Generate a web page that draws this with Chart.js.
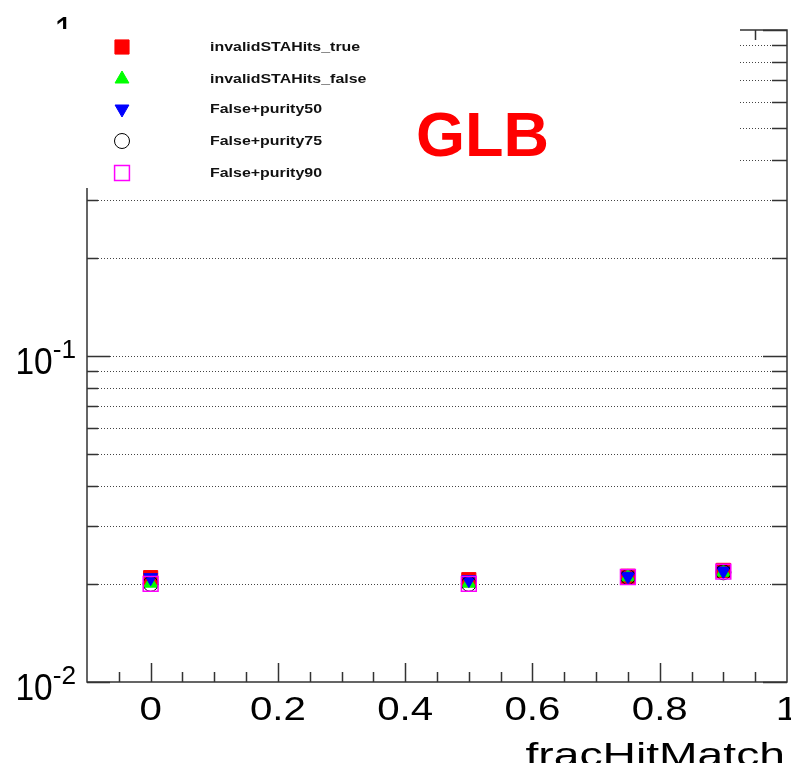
<!DOCTYPE html>
<html>
<head>
<meta charset="utf-8">
<script src="https://cdn.jsdelivr.net/npm/chart.js@4"></script>
<style>
html, body { margin: 0; padding: 0; background: #fff; overflow: hidden; }
</style>
</head>
<body>
<canvas id="fracChart" width="791" height="763"></canvas>
<script>
// data
const fracHitMatch = [0, 0.5, 0.75, 0.9];
const staHitsTrue = [0.0209, 0.0206, 0.0211, 0.0220];
const staHitsFalse = [0.0201, 0.0201, 0.0210, 0.0217];
const purity50 = [0.0209, 0.0206, 0.0211, 0.0219];
const purity75 = [0.0200, 0.0200, 0.0210, 0.0217];
const purity90 = [0.0200, 0.0200, 0.0210, 0.0218];

const xTickValues = [0, 0.2, 0.4, 0.6, 0.8, 1];
const xTickLabels = ["0", "0.2", "0.4", "0.6", "0.8", "1"];
const yDecades = [0.01, 0.1, 1];
const yDecadeLabels = [["10", "-2"], ["10", "-1"], ["1", ""]];

const FONT = '"Liberation Sans", Arial, Helvetica, sans-serif';
const AXIS = "#333";

function pts(ys) {
    return fracHitMatch.map((x, i) => ({ x: x, y: ys[i] }));
}

function isDecade(v) {
    return yDecades.some(d => Math.abs(v / d - 1) < 1e-6);
}

// log ticks: every 1..9 inside each decade
function yTickList() {
    const out = [];
    for (let d = 0; d < yDecades.length - 1; d++) {
        for (let m = 1; m < 10; m++) out.push(yDecades[d] * m);
    }
    out.push(yDecades[yDecades.length - 1]);
    return out;
}

// text stretched sideways, like the original ROOT output
function wideText(ctx, str, x, y, sx, align) {
    ctx.save();
    ctx.translate(x, y);
    ctx.scale(sx, 1);
    ctx.textAlign = align;
    ctx.fillText(str, 0, 0);
    ctx.restore();
}

// ROOT style frame, ticks, grid, legend box
const rootFrame = {
    id: "rootFrame",
    beforeDatasetsDraw(chart) {
        const { ctx, chartArea: a, scales: { y } } = chart;
        ctx.save();
        ctx.strokeStyle = "#444";
        ctx.lineWidth = 1;
        ctx.setLineDash([1, 2]);
        y.ticks.forEach(t => {
            if (t.value <= y.min * 1.0001 || t.value >= y.max * 0.9999) return;
            const py = Math.round(y.getPixelForValue(t.value)) + 0.5;
            const major = isDecade(t.value);
            ctx.beginPath();
            ctx.moveTo(a.left + (major ? 23 : 11), py);
            ctx.lineTo(a.right - (major ? 24 : 15), py);
            ctx.stroke();
        });
        ctx.restore();
    },
    afterDatasetsDraw(chart) {
        const { ctx, chartArea: a, scales: { x, y } } = chart;
        ctx.save();
        ctx.strokeStyle = AXIS;
        ctx.lineWidth = 1.5;
        ctx.strokeRect(a.left, a.top, a.right - a.left, a.bottom - a.top);

        // y ticks, left and right
        y.ticks.forEach(t => {
            const py = Math.round(y.getPixelForValue(t.value)) + 0.5;
            const major = isDecade(t.value);
            ctx.beginPath();
            ctx.moveTo(a.left, py);
            ctx.lineTo(a.left + (major ? 23 : 11), py);
            ctx.moveTo(a.right, py);
            ctx.lineTo(a.right - (major ? 24 : 15), py);
            ctx.stroke();
        });

        // x ticks, bottom and top, minor every 0.05
        for (let k = -1; k <= 20; k++) {
            const v = k * 0.05;
            const px = Math.round(x.getPixelForValue(v)) + 0.5;
            if (px <= a.left + 1 || px >= a.right - 1) continue;
            const major = k % 4 === 0;
            const len = major ? 19 : 10;
            ctx.beginPath();
            ctx.moveTo(px, a.bottom);
            ctx.lineTo(px, a.bottom - len);
            ctx.moveTo(px, a.top);
            ctx.lineTo(px, a.top + len);
            ctx.stroke();
        }

        // x tick labels
        ctx.fillStyle = "#000";
        ctx.textBaseline = "alphabetic";
        ctx.font = "33px " + FONT;
        xTickValues.forEach((v, i) => {
            wideText(ctx, xTickLabels[i], x.getPixelForValue(v), a.bottom + 38, 1.22, "center");
        });

        // y decade labels with exponent
        yDecades.forEach((d, i) => {
            const py = y.getPixelForValue(d);
            const [base, exp] = yDecadeLabels[i];
            if (exp) {
                ctx.font = "25px " + FONT;
                const ew = ctx.measureText(exp).width * 1.05;
                ctx.font = "36px " + FONT;
                wideText(ctx, base, 76 - ew, py + 18, 0.93, "right");
                ctx.font = "25px " + FONT;
                wideText(ctx, exp, 76 - ew, py + 2, 1.05, "left");
            } else {
                ctx.font = "36px " + FONT;
                ctx.textAlign = "right";
                ctx.fillText(base, 74, py + 13);
            }
        });

        // x axis title
        ctx.font = "34px " + FONT;
        wideText(ctx, "fracHitMatch", 785, 766, 1.36, "right");

        // legend box hides the frame underneath
        ctx.fillStyle = "#fff";
        ctx.fillRect(0, 29, 740, 159);

        const rows = [47, 79, 109, 141, 173];
        chart.data.datasets.forEach((ds, i) => {
            ctx.save();
            ctx.fillStyle = ds.backgroundColor;
            ctx.strokeStyle = ds.borderColor;
            ctx.lineWidth = ds.borderWidth;
            Chart.helpers.drawPoint(ctx, {
                pointStyle: ds.pointStyle,
                radius: ds.pointRadius,
                rotation: ds.pointRotation || 0,
                borderWidth: ds.borderWidth
            }, 122, rows[i]);
            ctx.restore();
            ctx.fillStyle = "#111";
            ctx.font = "bold 13.5px " + FONT;
            ctx.textBaseline = "middle";
            wideText(ctx, ds.label, 210, rows[i], 1.18, "left");
        });

        ctx.fillStyle = "#ff0000";
        ctx.font = "bold 63px " + FONT;
        ctx.textAlign = "left";
        ctx.textBaseline = "alphabetic";
        ctx.fillText("GLB", 416, 156);
        ctx.restore();
    }
};

new Chart(document.getElementById("fracChart"), {
    type: "scatter",
    data: {
        datasets: [
            { label: "invalidSTAHits_true", data: pts(staHitsTrue), pointStyle: "rect", pointRadius: 10,
              backgroundColor: "#ff0000", borderColor: "#ff0000", borderWidth: 1, order: 5 },
            { label: "invalidSTAHits_false", data: pts(staHitsFalse), pointStyle: "triangle", pointRadius: 8,
              backgroundColor: "#00ff00", borderColor: "#00ff00", borderWidth: 1, order: 4 },
            { label: "False+purity50", data: pts(purity50), pointStyle: "triangle", pointRotation: 180, pointRadius: 8,
              backgroundColor: "#0000ff", borderColor: "#0000ff", borderWidth: 1, order: 3 },
            { label: "False+purity75", data: pts(purity75), pointStyle: "circle", pointRadius: 7.5,
              backgroundColor: "rgba(0,0,0,0)", borderColor: "#000000", borderWidth: 1, order: 2 },
            { label: "False+purity90", data: pts(purity90), pointStyle: "rect", pointRadius: 10.5,
              backgroundColor: "rgba(0,0,0,0)", borderColor: "#ff00ff", borderWidth: 1.5, order: 1 }
        ]
    },
    options: {
        responsive: false,
        animation: false,
        devicePixelRatio: 1,
        layout: { autoPadding: false, padding: { left: 0, right: 4, top: 30, bottom: 0 } },
        plugins: { legend: { display: false }, tooltip: { enabled: false } },
        scales: {
            x: {
                type: "linear",
                min: -0.1,
                max: 1.0,
                grid: { display: false, drawTicks: false },
                border: { display: false },
                afterBuildTicks: s => { s.ticks = xTickValues.map(v => ({ value: v })); },
                afterFit: s => { s.height = 81; s.paddingLeft = 0; s.paddingRight = 0; },
                ticks: { display: false }
            },
            y: {
                type: "logarithmic",
                min: yDecades[0],
                max: yDecades[yDecades.length - 1],
                grid: { display: false, drawTicks: false },
                border: { display: false },
                afterBuildTicks: s => { s.ticks = yTickList().map(v => ({ value: v })); },
                afterFit: s => { s.width = 87; },
                ticks: { display: false }
            }
        }
    },
    plugins: [rootFrame]
});
</script>
</body>
</html>
